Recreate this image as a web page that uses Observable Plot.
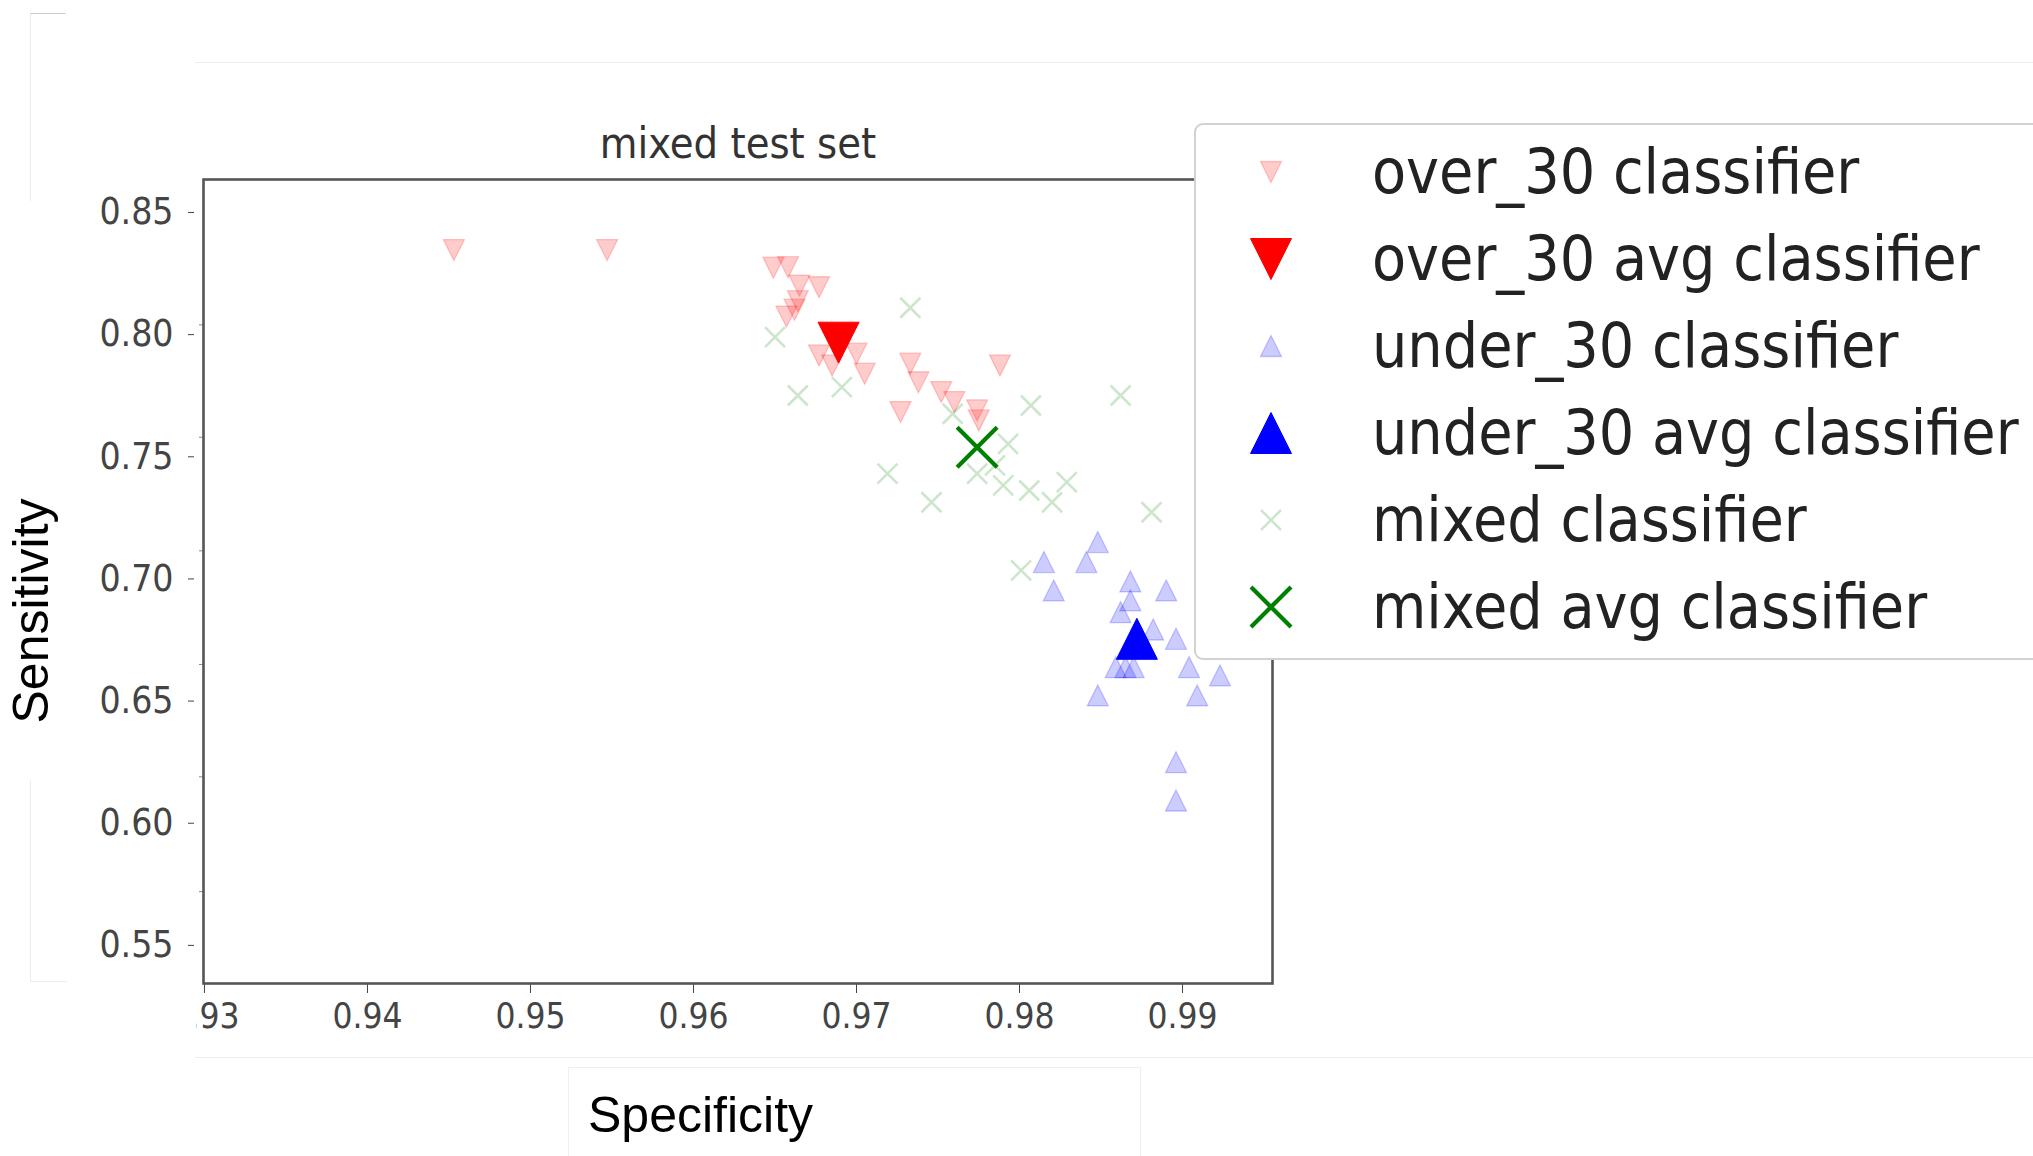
<!DOCTYPE html>
<html>
<head>
<meta charset="utf-8">
<script src="https://cdn.jsdelivr.net/npm/d3@7"></script>
<script src="https://cdn.jsdelivr.net/npm/@observablehq/plot@0.6"></script>
<style>
  html, body { margin: 0; padding: 0; background: #fff; }
  #wrap { position: relative; width: 2033px; height: 1156px; overflow: hidden; background: #fff; }
  #wrap > svg { position: absolute; left: 0; top: 0; }
  .mpl { font-family: "DejaVu Sans Condensed", "DejaVu Sans", sans-serif; font-stretch: condensed; }
  .ppt { font-family: "Liberation Sans", Arial, sans-serif; color: #000; }
  .abs { position: absolute; white-space: nowrap; }
  .line { position: absolute; background: #ececec; }
  #legend { position: absolute; left: 1194px; top: 123px; width: 900px; height: 537px;
            border: 2px solid #d2d2d2; border-radius: 9px; background: #fff; box-sizing: border-box; }
  .ltext { position: absolute; left: 176px; font-size: 62px; line-height: 62px; color: #222; white-space: nowrap; }
  .lmark { position: absolute; left: 45px; width: 60px; height: 60px; overflow: visible; }
</style>
</head>
<body>
<div id="wrap"></div>
<script>
// ---------- data ----------
const over30Specificity = [0.9453, 0.9547, 0.9649, 0.9658, 0.9665, 0.9677, 0.9664, 0.9662, 0.9657, 0.9677, 0.9685, 0.9700, 0.9705, 0.9733, 0.9738, 0.9752, 0.9760, 0.9727, 0.9774, 0.9775, 0.9788];
const over30Sensitivity = [0.8346, 0.8346, 0.8274, 0.8276, 0.8201, 0.8194, 0.8137, 0.8102, 0.8074, 0.7915, 0.7874, 0.7922, 0.7840, 0.7881, 0.7805, 0.7765, 0.7724, 0.7683, 0.7690, 0.7649, 0.7874];

const under30Specificity = [0.9848, 0.9815, 0.9841, 0.9821, 0.9868, 0.9890, 0.9868, 0.9862, 0.9882, 0.9896, 0.9859, 0.9865, 0.9870, 0.9904, 0.9923, 0.9848, 0.9909, 0.9896, 0.9896];
const under30Sensitivity = [0.7151, 0.7069, 0.7069, 0.6953, 0.6990, 0.6953, 0.6912, 0.6864, 0.6793, 0.6755, 0.6639, 0.6639, 0.6639, 0.6639, 0.6605, 0.6523, 0.6523, 0.6250, 0.6093];

const mixedSpecificity = [0.9650, 0.9733, 0.9664, 0.9691, 0.9719, 0.9746, 0.9759, 0.9807, 0.9793, 0.9774, 0.9790, 0.9806, 0.9820, 0.9829, 0.9862, 0.9881, 0.9801, 0.9785];
const mixedSensitivity = [0.7990, 0.8110, 0.7751, 0.7785, 0.7431, 0.7314, 0.7676, 0.7710, 0.7553, 0.7431, 0.7383, 0.7362, 0.7314, 0.7396, 0.7751, 0.7273, 0.7035, 0.7465];

const avgNames = ["over_30", "under_30", "mixed"];
const avgSpecificity = [0.9689, 0.9872, 0.9774];
const avgSensitivity = [0.7967, 0.6755, 0.7539];

const xTicks = [0.93, 0.94, 0.95, 0.96, 0.97, 0.98, 0.99];
const yTicks = [0.55, 0.60, 0.65, 0.70, 0.75, 0.80, 0.85];
const ySpineTicks = [0.572, 0.619, 0.665, 0.7115, 0.758, 0.804];

const legendLabels = ["over_30 classifier", "over_30 avg classifier", "under_30 classifier",
                      "under_30 avg classifier", "mixed classifier", "mixed avg classifier"];
const titleText = "mixed test set";
const xLabel = "Specificity";
const yLabel = "Sensitivity";

// ---------- helpers ----------
const pts = (xs, ys) => xs.map((x, i) => ({specificity: x, sensitivity: ys[i]}));
const over30 = pts(over30Specificity, over30Sensitivity);
const under30 = pts(under30Specificity, under30Sensitivity);
const mixed = pts(mixedSpecificity, mixedSensitivity);
const avg = avgNames.map((n, i) => ({name: n, specificity: avgSpecificity[i], sensitivity: avgSensitivity[i]}));

// matplotlib-like markers (bbox-centred, height == width)
const triUp = {draw(c, size) { const a = Math.sqrt(size / Math.PI); c.moveTo(0, -a); c.lineTo(a, a); c.lineTo(-a, a); c.closePath(); }};
const triDown = {draw(c, size) { const a = Math.sqrt(size / Math.PI); c.moveTo(0, a); c.lineTo(a, -a); c.lineTo(-a, -a); c.closePath(); }};
const cross = {draw(c, size) { const a = Math.sqrt(size / Math.PI); c.moveTo(-a, -a); c.lineTo(a, a); c.moveTo(-a, a); c.lineTo(a, -a); }};

const FONT = "'DejaVu Sans Condensed', 'DejaVu Sans', sans-serif";

const light = (color, symbol, r, sw) => ({x: "specificity", y: "sensitivity", symbol, r,
  fill: symbol === cross ? "none" : color, fillOpacity: 0.2, stroke: color, strokeOpacity: 0.2, strokeWidth: sw});

const chart = Plot.plot({
  width: 2033,
  height: 1156,
  marginLeft: 203,
  marginRight: 761,
  marginTop: 179,
  marginBottom: 173,
  x: {domain: [0.92994, 0.99552]},
  y: {domain: [0.5344, 0.8635]},
  style: {fontFamily: FONT, fontStretch: "condensed", background: "transparent", overflow: "visible"},
  marks: [
    Plot.dot(over30, light("red", triDown, 10.5, 1.3)),
    Plot.dot(avg.filter(d => d.name === "over_30"), {x: "specificity", y: "sensitivity", symbol: triDown, r: 20.5, fill: "red", stroke: "red", strokeWidth: 1}),
    Plot.dot(under30, light("blue", triUp, 10.5, 1.3)),
    Plot.dot(avg.filter(d => d.name === "under_30"), {x: "specificity", y: "sensitivity", symbol: triUp, r: 20.5, fill: "blue", stroke: "blue", strokeWidth: 1}),
    Plot.dot(mixed, light("green", cross, 10, 2.6)),
    Plot.dot(avg.filter(d => d.name === "mixed"), {x: "specificity", y: "sensitivity", symbol: cross, r: 20, fill: "none", stroke: "green", strokeWidth: 4.2}),
    Plot.axisX({ticks: xTicks, tickFormat: d => d.toFixed(2), tickSize: 10, tickPadding: 10, fontSize: 35, color: "#444", label: null}),
    Plot.axisY({ticks: yTicks, tickFormat: d => d.toFixed(2), tickSize: 6, dx: -9, tickPadding: 15, fontSize: 37, color: "#444", label: null}),
    Plot.axisY({ticks: ySpineTicks, tickFormat: () => "", tickSize: 4, color: "#888", label: null}),
    Plot.frame({stroke: "#555", strokeWidth: 2.6})
  ]
});
const wrap = document.getElementById("wrap");
wrap.appendChild(chart);

// ---------- overlays (frame artefacts, labels, legend) ----------
function addDiv(cls, style, text) {
  const d = document.createElement("div");
  d.className = cls;
  Object.assign(d.style, style);
  if (text != null) d.textContent = text;
  wrap.appendChild(d);
  return d;
}
// faint panel borders of the composed figure
addDiv("line", {left: "195px", top: "62px", width: "1838px", height: "1px"});
addDiv("line", {left: "195px", top: "1057px", width: "1838px", height: "1px"});
addDiv("line", {left: "30px", top: "13px", width: "1px", height: "188px"});
addDiv("line", {left: "30px", top: "13px", width: "36px", height: "1px", background: "#cfcfcf"});
addDiv("line", {left: "30px", top: "780px", width: "1px", height: "201px"});
addDiv("line", {left: "30px", top: "981px", width: "37px", height: "1px"});
// white patch that crops the first x tick label
addDiv("abs", {left: "0px", top: "988px", width: "196px", height: "60px", background: "#fff"});
// box round the x-axis label
addDiv("abs", {left: "568px", top: "1067px", width: "573px", height: "100px", border: "1px solid #efefef", boxSizing: "border-box"});

// title
addDiv("abs mpl", {left: "238px", width: "1000px", textAlign: "center", top: "122px", fontSize: "43px", lineHeight: "43px", color: "#333"}, titleText);
// x-axis label
addDiv("abs ppt", {left: "588px", top: "1090px", fontSize: "50px", lineHeight: "50px"}, xLabel);

const NS = "http://www.w3.org/2000/svg";
// rotated y-axis label as SVG text
{
  const s = document.createElementNS(NS, "svg");
  s.setAttribute("width", 80); s.setAttribute("height", 1156);
  s.style.position = "absolute"; s.style.left = "0px"; s.style.top = "0px";
  const t = document.createElementNS(NS, "text");
  t.setAttribute("transform", "translate(48,611) rotate(-90)");
  t.setAttribute("text-anchor", "middle");
  t.setAttribute("font-family", "'Liberation Sans', Arial, sans-serif");
  t.setAttribute("font-size", 50);
  t.setAttribute("fill", "#000");
  t.textContent = yLabel;
  s.appendChild(t);
  wrap.appendChild(s);
}

// legend
const legend = addDiv("", {}, null);
legend.id = "legend";
const legendSymbols = [
  {sym: triDown, r: 10.5, fill: "red", op: 0.2, sw: 1.3},
  {sym: triDown, r: 20.5, fill: "red", op: 1, sw: 1},
  {sym: triUp, r: 10.5, fill: "blue", op: 0.2, sw: 1.3},
  {sym: triUp, r: 20.5, fill: "blue", op: 1, sw: 1},
  {sym: cross, r: 10, fill: "none", stroke: "green", op: 0.2, sw: 2.6},
  {sym: cross, r: 20, fill: "none", stroke: "green", op: 1, sw: 4.2}
];
legendLabels.forEach((lab, i) => {
  const cy = 47 + 87 * i;           // marker centre inside the legend box
  const s = legendSymbols[i];
  const svg = document.createElementNS(NS, "svg");
  svg.setAttribute("class", "lmark");
  svg.setAttribute("width", 60); svg.setAttribute("height", 60);
  svg.style.top = (cy - 30) + "px";
  const p = d3.path();
  s.sym.draw(p, s.r * s.r * Math.PI);
  const path = document.createElementNS(NS, "path");
  path.setAttribute("d", p.toString());
  path.setAttribute("transform", "translate(30,30)");
  const col = s.stroke || s.fill;
  path.setAttribute("fill", s.fill);
  path.setAttribute("fill-opacity", s.op);
  path.setAttribute("stroke", col);
  path.setAttribute("stroke-opacity", s.op);
  path.setAttribute("stroke-width", s.sw);
  svg.appendChild(path);
  legend.appendChild(svg);
  const t = document.createElement("div");
  t.className = "ltext mpl";
  t.textContent = lab;
  t.style.top = (cy + 21 - 52.5) + "px";
  legend.appendChild(t);
});
</script>
</body>
</html>
